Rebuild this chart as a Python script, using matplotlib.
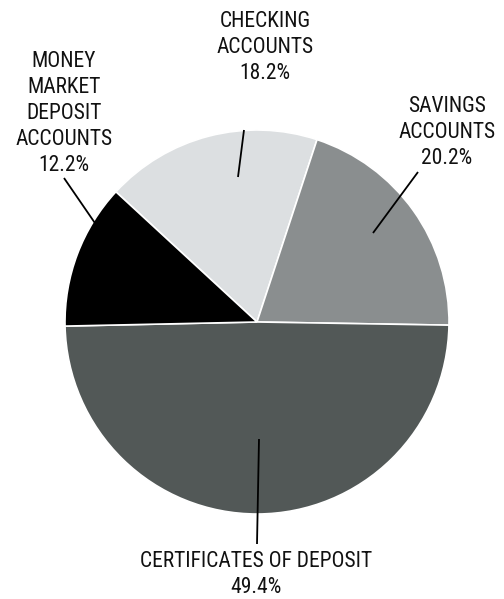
import matplotlib
matplotlib.use("Agg")
import matplotlib.pyplot as plt

plt.rcParams['font.family'] = ['Roboto Condensed', 'DejaVu Sans']

categories = ["CHECKING\nACCOUNTS", "SAVINGS\nACCOUNTS", "CERTIFICATES OF DEPOSIT",
              "MONEY\nMARKET\nDEPOSIT\nACCOUNTS"]
shares = [18.2, 20.2, 49.4, 12.2]
colors = ["#dcdfe1", "#8a8e8f", "#525857", "#000000"]

W, H = 504, 599
fig = plt.figure(figsize=(W / 100, H / 100), dpi=100)
ax = fig.add_axes([0, 0, 1, 1])

cx, cy, r = 257, H - 322, 192
ax.pie(shares, colors=colors, startangle=137.3, counterclock=False,
       center=(cx, cy), radius=r, frame=True,
       wedgeprops=dict(edgecolor='white', linewidth=1.2))
ax.set_xlim(0, W)
ax.set_ylim(0, H)
ax.set_aspect('equal')
ax.axis('off')

# label anchors (pixel coords from top-left) and leader lines
label_pos = [(265, 11), (447, 96), (256, 551), (64, 51)]
leaders = [((244, 130), (238, 177)),
           ((418, 172), (373, 233)),
           ((259, 439), (257, 544)),
           ((64, 178), (97, 226))]

for name, val, (lx, ly), ((x0, y0), (x1, y1)) in zip(categories, shares, label_pos, leaders):
    ax.text(lx, H - ly, f"{name}\n{val:.1f}%", ha='center', va='top',
            fontsize=15.5, linespacing=1.32, color='#111111')
    ax.plot([x0, x1], [H - y0, H - y1], color='black', lw=1.3, solid_capstyle='butt')

fig.savefig("out.png", dpi=100, facecolor='white')
